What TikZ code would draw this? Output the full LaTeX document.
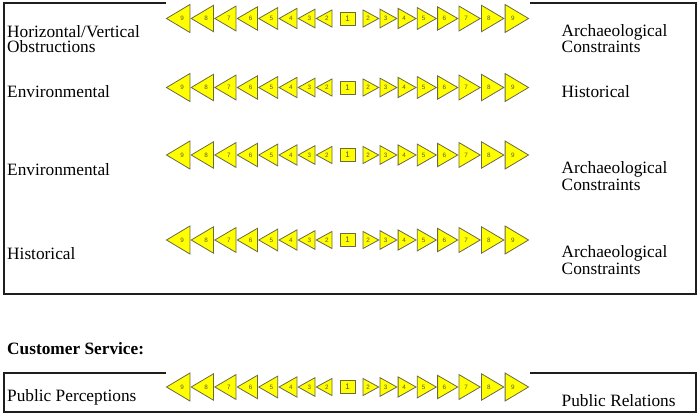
\documentclass[tikz,border=0pt]{standalone}
\usepackage{fontspec}
\setmainfont{Liberation Serif}
\newfontfamily\numfont{Liberation Sans}
\definecolor{triyellow}{HTML}{FFFF00}
\definecolor{triedge}{HTML}{6B6845}
\definecolor{numgray}{HTML}{5A5838}
\definecolor{framecol}{HTML}{1E1E1E}
\tikzset{
  lbl/.style={font=\fontsize{17.3}{15}\selectfont, inner sep=0pt, anchor=base west, align=left},
  num/.style={font=\numfont\fontsize{6.3}{7}\selectfont, text=numgray, inner sep=0pt},
  tri/.style={fill=triyellow, draw=triedge, line width=0.8pt, line join=miter},
  sqbox/.style={fill=triyellow, draw=triedge, line width=0.8pt, minimum width=15pt, minimum height=13pt,
    inner sep=0pt, font=\numfont\fontsize{8}{9}\selectfont, text=numgray},
  frame/.style={draw=framecol, line width=2pt, line join=miter, line cap=rect},
}
\begin{document}
\begin{tikzpicture}[x=1pt,y=-1pt]
\useasboundingbox (0,0) rectangle (700,417);
% frames
\draw[frame] (165,3.5) -- (3.5,3.5) -- (3.5,294) -- (695.5,294) -- (695.5,3.5) -- (531,3.5);
\draw[frame] (165,373) -- (3.5,373) -- (3.5,411.5) -- (695.5,411.5) -- (695.5,373) -- (531,373);
% scales
\foreach \r/\y in {a/18.5, b/87.5, c/155, d/240, e/387}{
  \node[sqbox] (\r-1) at (347.5,\y) {1};
  \foreach \k/\b/\w in {2/15.5/15.7, 3/32.5/16.8, 4/50.6/17.9, 5/69.8/19.0, 6/90.1/20.1, 7/111.5/21.2, 8/134/22.3, 9/157.6/23.4}{
    \pgfmathsetmacro{\h}{1.55*\k+14}
    \draw[tri] ({347.5+\b},{\y-\h/2}) -- ({347.5+\b+\w},\y) -- ({347.5+\b},{\y+\h/2}) -- cycle;
    \node[num] (\r-R\k) at ({347.5+\b+\w/3},\y) {\k};
    \draw[tri] ({347.5-\b},{\y-\h/2}) -- ({347.5-\b-\w},\y) -- ({347.5-\b},{\y+\h/2}) -- cycle;
    \node[num] (\r-L\k) at ({347.5-\b-\w/3},\y) {\k};
  }
}
% labels left
\node[lbl] (l1) at (7,53) {Horizontal/Vertical\\Obstructions};
\node[lbl] (l2) at (7,97.5) {Environmental};
\node[lbl] (l3) at (7,175) {Environmental};
\node[lbl] (l4) at (7,259.3) {Historical};
\node[lbl,font=\fontsize{17.3}{15}\selectfont\bfseries] (cs) at (7,354.3) {Customer Service:};
\node[lbl] (l5) at (7,401.7) {Public Perceptions};
% labels right
\node[lbl] (r1) at (561.5,53) {Archaeological\\Constraints};
\node[lbl] (r2) at (561.5,97.5) {Historical};
\node[lbl] (r3) at (561.5,190) {Archaeological\\Constraints};
\node[lbl] (r4) at (561.5,274) {Archaeological\\Constraints};
\node[lbl] (r5) at (561.5,406.7) {Public Relations};
\end{tikzpicture}
\end{document}
